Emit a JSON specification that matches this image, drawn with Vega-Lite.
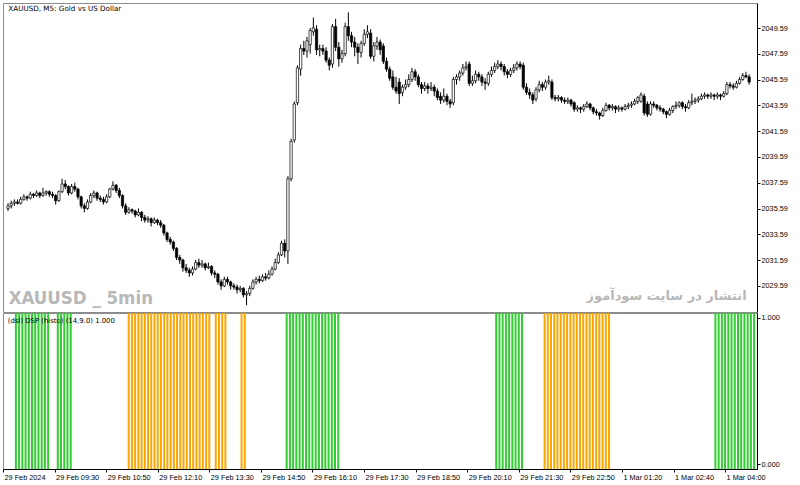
{
  "$schema": "https://vega.github.io/schema/vega-lite/v6.json",
  "padding": {"left": 2, "top": 2, "right": 0, "bottom": 0},
  "background": "white",
  "bounds": "flush",
  "config": {
    "view": {"stroke": "#8c8c8c", "strokeWidth": 1},
    "axis": {"labelFont": "Liberation Sans", "labelFontSize": 7.3, "labelColor": "#000", "domainColor": "#000", "tickColor": "#000", "grid": false, "title": null, "labelOverlap": false, "labelFlush": false}
  },
  "datasets": {
    "candles": [
      {"i":0,"o":2035.6,"h":2036.0,"l":2035.4,"c":2035.8},{"i":1,"o":2035.8,"h":2036.2,"l":2035.6,"c":2036.0},{"i":2,"o":2036.0,"h":2036.3,"l":2035.8,"c":2036.1},{"i":3,"o":2036.1,"h":2036.3,"l":2035.9,"c":2036.0},{"i":4,"o":2036.0,"h":2036.5,"l":2035.9,"c":2036.3},{"i":5,"o":2036.3,"h":2036.7,"l":2036.2,"c":2036.5},{"i":6,"o":2036.5,"h":2036.6,"l":2036.2,"c":2036.4},{"i":7,"o":2036.4,"h":2036.9,"l":2036.3,"c":2036.7},{"i":8,"o":2036.7,"h":2036.8,"l":2036.4,"c":2036.6},{"i":9,"o":2036.6,"h":2037.0,"l":2036.5,"c":2036.8},
      {"i":10,"o":2036.8,"h":2036.9,"l":2036.4,"c":2036.6},{"i":11,"o":2036.6,"h":2037.2,"l":2036.5,"c":2036.8},{"i":12,"o":2036.8,"h":2037.0,"l":2036.6,"c":2036.9},{"i":13,"o":2036.9,"h":2037.0,"l":2036.5,"c":2036.7},{"i":14,"o":2036.7,"h":2036.9,"l":2036.4,"c":2036.6},{"i":15,"o":2036.6,"h":2036.7,"l":2035.9,"c":2036.2},{"i":16,"o":2036.2,"h":2037.0,"l":2036.1,"c":2036.9},{"i":17,"o":2036.9,"h":2037.9,"l":2036.8,"c":2037.5},{"i":18,"o":2037.5,"h":2037.8,"l":2037.1,"c":2037.3},{"i":19,"o":2037.3,"h":2037.4,"l":2036.6,"c":2036.8},
      {"i":20,"o":2036.8,"h":2037.5,"l":2036.7,"c":2037.3},{"i":21,"o":2037.3,"h":2037.6,"l":2036.9,"c":2037.1},{"i":22,"o":2037.1,"h":2037.2,"l":2036.3,"c":2036.5},{"i":23,"o":2036.5,"h":2036.6,"l":2035.6,"c":2035.8},{"i":24,"o":2035.8,"h":2036.0,"l":2035.3,"c":2035.6},{"i":25,"o":2035.6,"h":2036.3,"l":2035.5,"c":2036.1},{"i":26,"o":2036.1,"h":2036.8,"l":2036.0,"c":2036.6},{"i":27,"o":2036.6,"h":2037.0,"l":2036.4,"c":2036.8},{"i":28,"o":2036.8,"h":2036.9,"l":2036.2,"c":2036.4},{"i":29,"o":2036.4,"h":2036.6,"l":2036.1,"c":2036.3},
      {"i":30,"o":2036.3,"h":2036.5,"l":2035.9,"c":2036.1},{"i":31,"o":2036.1,"h":2036.7,"l":2036.0,"c":2036.5},{"i":32,"o":2036.5,"h":2037.2,"l":2036.4,"c":2037.1},{"i":33,"o":2037.1,"h":2037.7,"l":2037.0,"c":2037.4},{"i":34,"o":2037.4,"h":2037.5,"l":2036.8,"c":2037.0},{"i":35,"o":2037.0,"h":2037.2,"l":2036.4,"c":2036.6},{"i":36,"o":2036.6,"h":2036.7,"l":2035.6,"c":2035.8},{"i":37,"o":2035.8,"h":2036.0,"l":2035.1,"c":2035.3},{"i":38,"o":2035.3,"h":2035.7,"l":2035.2,"c":2035.5},{"i":39,"o":2035.5,"h":2035.6,"l":2035.2,"c":2035.4},
      {"i":40,"o":2035.4,"h":2035.5,"l":2034.9,"c":2035.1},{"i":41,"o":2035.1,"h":2035.6,"l":2035.0,"c":2035.3},{"i":42,"o":2035.3,"h":2035.4,"l":2034.6,"c":2034.9},{"i":43,"o":2034.9,"h":2035.1,"l":2034.5,"c":2034.7},{"i":44,"o":2034.7,"h":2035.0,"l":2034.5,"c":2034.8},{"i":45,"o":2034.8,"h":2034.9,"l":2034.2,"c":2034.5},{"i":46,"o":2034.5,"h":2034.9,"l":2034.4,"c":2034.7},{"i":47,"o":2034.7,"h":2034.8,"l":2034.3,"c":2034.5},{"i":48,"o":2034.5,"h":2034.7,"l":2034.1,"c":2034.3},{"i":49,"o":2034.3,"h":2034.4,"l":2033.5,"c":2033.7},
      {"i":50,"o":2033.7,"h":2033.8,"l":2033.0,"c":2033.2},{"i":51,"o":2033.2,"h":2033.4,"l":2032.8,"c":2033.0},{"i":52,"o":2033.0,"h":2033.1,"l":2032.3,"c":2032.5},{"i":53,"o":2032.5,"h":2032.6,"l":2031.6,"c":2031.8},{"i":54,"o":2031.8,"h":2032.0,"l":2031.3,"c":2031.6},{"i":55,"o":2031.6,"h":2031.7,"l":2030.7,"c":2031.0},{"i":56,"o":2031.0,"h":2031.3,"l":2030.6,"c":2030.8},{"i":57,"o":2030.8,"h":2031.0,"l":2030.3,"c":2030.6},{"i":58,"o":2030.6,"h":2031.1,"l":2030.4,"c":2030.9},{"i":59,"o":2030.9,"h":2031.6,"l":2030.8,"c":2031.4},
      {"i":60,"o":2031.4,"h":2031.7,"l":2031.0,"c":2031.2},{"i":61,"o":2031.2,"h":2031.6,"l":2031.0,"c":2031.3},{"i":62,"o":2031.3,"h":2031.4,"l":2030.8,"c":2031.0},{"i":63,"o":2031.0,"h":2031.4,"l":2030.9,"c":2031.1},{"i":64,"o":2031.1,"h":2031.2,"l":2030.4,"c":2030.6},{"i":65,"o":2030.6,"h":2030.8,"l":2030.2,"c":2030.5},{"i":66,"o":2030.5,"h":2030.6,"l":2029.7,"c":2029.9},{"i":67,"o":2029.9,"h":2030.1,"l":2029.3,"c":2029.6},{"i":68,"o":2029.6,"h":2030.3,"l":2029.5,"c":2030.1},{"i":69,"o":2030.1,"h":2030.3,"l":2029.7,"c":2029.9},
      {"i":70,"o":2029.9,"h":2030.0,"l":2029.3,"c":2029.6},{"i":71,"o":2029.6,"h":2029.8,"l":2029.3,"c":2029.5},{"i":72,"o":2029.5,"h":2029.7,"l":2029.0,"c":2029.3},{"i":73,"o":2029.3,"h":2029.6,"l":2029.1,"c":2029.4},{"i":74,"o":2029.4,"h":2029.5,"l":2028.7,"c":2028.9},{"i":75,"o":2028.9,"h":2029.2,"l":2028.1,"c":2029.0},{"i":76,"o":2029.0,"h":2029.6,"l":2028.8,"c":2029.4},{"i":77,"o":2029.4,"h":2030.1,"l":2029.3,"c":2029.9},{"i":78,"o":2029.9,"h":2030.3,"l":2029.7,"c":2030.1},{"i":79,"o":2030.1,"h":2030.4,"l":2029.8,"c":2030.0},
      {"i":80,"o":2030.0,"h":2030.5,"l":2029.9,"c":2030.3},{"i":81,"o":2030.3,"h":2030.6,"l":2030.0,"c":2030.2},{"i":82,"o":2030.2,"h":2030.8,"l":2030.1,"c":2030.5},{"i":83,"o":2030.5,"h":2031.1,"l":2030.4,"c":2030.9},{"i":84,"o":2030.9,"h":2031.7,"l":2030.8,"c":2031.4},{"i":85,"o":2031.4,"h":2032.2,"l":2031.3,"c":2032.0},{"i":86,"o":2032.0,"h":2033.1,"l":2031.9,"c":2032.9},{"i":87,"o":2032.9,"h":2033.2,"l":2031.8,"c":2032.3},{"i":88,"o":2032.3,"h":2038.1,"l":2031.3,"c":2037.9},{"i":89,"o":2037.9,"h":2041.0,"l":2037.7,"c":2040.8},
      {"i":90,"o":2040.9,"h":2043.9,"l":2040.7,"c":2043.7},{"i":91,"o":2043.8,"h":2046.7,"l":2043.6,"c":2046.5},{"i":92,"o":2046.4,"h":2048.3,"l":2045.9,"c":2048.0},{"i":93,"o":2048.0,"h":2048.6,"l":2047.5,"c":2047.8},{"i":94,"o":2047.8,"h":2048.9,"l":2047.3,"c":2048.6},{"i":95,"o":2048.3,"h":2049.6,"l":2047.6,"c":2049.4},{"i":96,"o":2049.3,"h":2050.4,"l":2049.0,"c":2049.6},{"i":97,"o":2049.5,"h":2049.8,"l":2047.5,"c":2047.9},{"i":98,"o":2047.9,"h":2048.3,"l":2047.4,"c":2048.0},{"i":99,"o":2048.0,"h":2048.3,"l":2047.5,"c":2047.8},
      {"i":100,"o":2047.8,"h":2048.1,"l":2046.9,"c":2047.1},{"i":101,"o":2047.1,"h":2047.3,"l":2046.3,"c":2046.7},{"i":102,"o":2046.8,"h":2049.9,"l":2046.5,"c":2049.7},{"i":103,"o":2049.7,"h":2050.3,"l":2047.8,"c":2048.1},{"i":104,"o":2048.1,"h":2048.5,"l":2046.6,"c":2047.2},{"i":105,"o":2047.2,"h":2047.9,"l":2046.9,"c":2047.6},{"i":106,"o":2047.6,"h":2050.0,"l":2047.4,"c":2049.7},{"i":107,"o":2049.7,"h":2050.8,"l":2048.6,"c":2049.0},{"i":108,"o":2049.0,"h":2049.3,"l":2048.1,"c":2048.5},{"i":109,"o":2048.5,"h":2048.9,"l":2047.4,"c":2048.1},
      {"i":110,"o":2048.1,"h":2048.4,"l":2046.8,"c":2047.7},{"i":111,"o":2047.7,"h":2048.6,"l":2047.3,"c":2048.4},{"i":112,"o":2048.4,"h":2049.5,"l":2048.2,"c":2049.1},{"i":113,"o":2049.1,"h":2049.8,"l":2048.8,"c":2049.3},{"i":114,"o":2049.2,"h":2049.5,"l":2047.2,"c":2047.4},{"i":115,"o":2047.4,"h":2048.5,"l":2047.0,"c":2048.2},{"i":116,"o":2048.2,"h":2048.9,"l":2047.9,"c":2048.5},{"i":117,"o":2048.5,"h":2048.7,"l":2047.5,"c":2047.9},{"i":118,"o":2048.2,"h":2048.4,"l":2046.8,"c":2047.0},{"i":119,"o":2047.0,"h":2047.3,"l":2046.2,"c":2046.4},
      {"i":120,"o":2046.4,"h":2046.6,"l":2045.5,"c":2045.7},{"i":121,"o":2045.8,"h":2046.3,"l":2044.8,"c":2045.0},{"i":122,"o":2045.0,"h":2045.8,"l":2044.5,"c":2044.7},{"i":123,"o":2045.4,"h":2045.7,"l":2043.7,"c":2044.5},{"i":124,"o":2044.6,"h":2045.2,"l":2044.3,"c":2045.0},{"i":125,"o":2045.0,"h":2045.6,"l":2044.8,"c":2045.2},{"i":126,"o":2045.2,"h":2046.0,"l":2045.0,"c":2045.6},{"i":127,"o":2045.6,"h":2046.5,"l":2045.4,"c":2046.2},{"i":128,"o":2046.2,"h":2046.4,"l":2045.5,"c":2045.8},{"i":129,"o":2045.8,"h":2046.0,"l":2045.0,"c":2045.2},
      {"i":130,"o":2045.2,"h":2045.4,"l":2044.5,"c":2044.9},{"i":131,"o":2044.9,"h":2045.4,"l":2044.7,"c":2045.1},{"i":132,"o":2045.1,"h":2045.3,"l":2044.5,"c":2044.9},{"i":133,"o":2044.9,"h":2045.4,"l":2044.7,"c":2045.0},{"i":134,"o":2045.0,"h":2045.2,"l":2044.3,"c":2044.7},{"i":135,"o":2044.7,"h":2044.9,"l":2044.0,"c":2044.2},{"i":136,"o":2044.3,"h":2044.6,"l":2043.7,"c":2044.0},{"i":137,"o":2044.0,"h":2044.9,"l":2043.8,"c":2044.3},{"i":138,"o":2044.3,"h":2044.5,"l":2043.6,"c":2043.9},{"i":139,"o":2043.9,"h":2044.1,"l":2043.4,"c":2043.7},
      {"i":140,"o":2043.8,"h":2045.8,"l":2043.6,"c":2045.6},{"i":141,"o":2045.6,"h":2046.0,"l":2045.2,"c":2045.8},{"i":142,"o":2045.8,"h":2046.3,"l":2045.5,"c":2046.1},{"i":143,"o":2046.1,"h":2046.8,"l":2045.9,"c":2046.5},{"i":144,"o":2046.5,"h":2047.0,"l":2046.3,"c":2046.6},{"i":145,"o":2046.8,"h":2047.0,"l":2045.1,"c":2045.3},{"i":146,"o":2045.3,"h":2045.9,"l":2045.1,"c":2045.5},{"i":147,"o":2045.5,"h":2046.3,"l":2045.3,"c":2046.0},{"i":148,"o":2046.0,"h":2046.2,"l":2045.5,"c":2045.8},{"i":149,"o":2045.8,"h":2046.0,"l":2045.1,"c":2045.4},
      {"i":150,"o":2045.4,"h":2045.7,"l":2044.8,"c":2045.3},{"i":151,"o":2045.3,"h":2046.2,"l":2045.1,"c":2046.0},{"i":152,"o":2046.0,"h":2046.6,"l":2045.8,"c":2046.3},{"i":153,"o":2046.3,"h":2046.9,"l":2046.1,"c":2046.6},{"i":154,"o":2046.6,"h":2047.1,"l":2046.4,"c":2046.8},{"i":155,"o":2046.8,"h":2047.0,"l":2046.3,"c":2046.6},{"i":156,"o":2046.6,"h":2046.8,"l":2045.9,"c":2046.2},{"i":157,"o":2046.2,"h":2046.4,"l":2045.7,"c":2046.0},{"i":158,"o":2046.0,"h":2046.5,"l":2045.8,"c":2046.3},{"i":159,"o":2046.3,"h":2046.8,"l":2046.1,"c":2046.5},
      {"i":160,"o":2046.5,"h":2047.0,"l":2046.3,"c":2046.8},{"i":161,"o":2046.8,"h":2047.0,"l":2046.4,"c":2046.6},{"i":162,"o":2046.7,"h":2046.9,"l":2044.8,"c":2045.0},{"i":163,"o":2045.0,"h":2045.3,"l":2044.4,"c":2044.6},{"i":164,"o":2044.6,"h":2044.9,"l":2044.1,"c":2044.4},{"i":165,"o":2044.4,"h":2044.6,"l":2043.7,"c":2044.0},{"i":166,"o":2044.1,"h":2045.0,"l":2043.9,"c":2044.8},{"i":167,"o":2044.8,"h":2045.5,"l":2044.6,"c":2045.2},{"i":168,"o":2045.2,"h":2045.4,"l":2044.7,"c":2045.0},{"i":169,"o":2045.0,"h":2045.6,"l":2044.8,"c":2045.4},
      {"i":170,"o":2045.4,"h":2045.9,"l":2045.2,"c":2045.5},{"i":171,"o":2045.4,"h":2045.6,"l":2044.0,"c":2044.2},{"i":172,"o":2044.2,"h":2044.4,"l":2043.9,"c":2044.1},{"i":173,"o":2044.1,"h":2044.4,"l":2043.9,"c":2044.2},{"i":174,"o":2044.2,"h":2044.3,"l":2043.8,"c":2044.0},{"i":175,"o":2044.0,"h":2044.2,"l":2043.7,"c":2043.9},{"i":176,"o":2043.9,"h":2044.2,"l":2043.7,"c":2044.0},{"i":177,"o":2044.0,"h":2044.1,"l":2043.5,"c":2043.7},{"i":178,"o":2043.8,"h":2043.9,"l":2043.1,"c":2043.3},{"i":179,"o":2043.3,"h":2043.6,"l":2043.1,"c":2043.4},
      {"i":180,"o":2043.4,"h":2043.5,"l":2043.0,"c":2043.3},{"i":181,"o":2043.3,"h":2043.7,"l":2043.1,"c":2043.5},{"i":182,"o":2043.5,"h":2043.9,"l":2043.4,"c":2043.7},{"i":183,"o":2043.7,"h":2043.8,"l":2043.2,"c":2043.4},{"i":184,"o":2043.4,"h":2043.5,"l":2042.9,"c":2043.1},{"i":185,"o":2043.1,"h":2043.3,"l":2042.8,"c":2043.0},{"i":186,"o":2043.0,"h":2043.1,"l":2042.5,"c":2042.8},{"i":187,"o":2042.8,"h":2043.4,"l":2042.7,"c":2043.2},{"i":188,"o":2043.2,"h":2043.8,"l":2043.1,"c":2043.6},{"i":189,"o":2043.6,"h":2043.7,"l":2043.2,"c":2043.4},
      {"i":190,"o":2043.4,"h":2043.7,"l":2043.2,"c":2043.5},{"i":191,"o":2043.5,"h":2043.6,"l":2043.0,"c":2043.3},{"i":192,"o":2043.3,"h":2043.6,"l":2043.1,"c":2043.4},{"i":193,"o":2043.4,"h":2043.5,"l":2043.1,"c":2043.3},{"i":194,"o":2043.3,"h":2043.7,"l":2043.2,"c":2043.5},{"i":195,"o":2043.5,"h":2043.8,"l":2043.3,"c":2043.6},{"i":196,"o":2043.6,"h":2043.9,"l":2043.4,"c":2043.7},{"i":197,"o":2043.7,"h":2044.1,"l":2043.6,"c":2043.9},{"i":198,"o":2043.9,"h":2044.3,"l":2043.7,"c":2044.2},{"i":199,"o":2043.9,"h":2044.6,"l":2043.8,"c":2044.4},
      {"i":200,"o":2044.3,"h":2044.5,"l":2042.8,"c":2043.0},{"i":201,"o":2043.7,"h":2043.9,"l":2042.7,"c":2042.9},{"i":202,"o":2042.9,"h":2043.9,"l":2042.8,"c":2043.7},{"i":203,"o":2043.7,"h":2043.9,"l":2043.4,"c":2043.6},{"i":204,"o":2043.6,"h":2043.7,"l":2043.2,"c":2043.4},{"i":205,"o":2043.4,"h":2043.6,"l":2043.1,"c":2043.3},{"i":206,"o":2043.3,"h":2043.4,"l":2042.9,"c":2043.1},{"i":207,"o":2043.1,"h":2043.2,"l":2042.6,"c":2042.9},{"i":208,"o":2042.9,"h":2043.4,"l":2042.8,"c":2043.2},{"i":209,"o":2043.2,"h":2043.6,"l":2043.0,"c":2043.5},
      {"i":210,"o":2043.5,"h":2043.9,"l":2043.3,"c":2043.6},{"i":211,"o":2043.6,"h":2043.9,"l":2043.4,"c":2043.8},{"i":212,"o":2043.8,"h":2043.9,"l":2043.3,"c":2043.5},{"i":213,"o":2043.5,"h":2043.7,"l":2043.1,"c":2043.4},{"i":214,"o":2043.4,"h":2044.0,"l":2043.3,"c":2043.8},{"i":215,"o":2043.8,"h":2044.5,"l":2043.6,"c":2043.9},{"i":216,"o":2043.9,"h":2044.2,"l":2043.7,"c":2044.0},{"i":217,"o":2044.0,"h":2044.3,"l":2043.8,"c":2044.1},{"i":218,"o":2044.1,"h":2044.5,"l":2044.0,"c":2044.3},{"i":219,"o":2044.3,"h":2044.6,"l":2044.1,"c":2044.4},
      {"i":220,"o":2044.4,"h":2044.5,"l":2044.1,"c":2044.3},{"i":221,"o":2044.3,"h":2044.6,"l":2044.1,"c":2044.4},{"i":222,"o":2044.4,"h":2044.5,"l":2044.0,"c":2044.3},{"i":223,"o":2044.3,"h":2044.6,"l":2044.1,"c":2044.4},{"i":224,"o":2044.4,"h":2044.5,"l":2044.0,"c":2044.3},{"i":225,"o":2044.3,"h":2044.7,"l":2044.2,"c":2044.5},{"i":226,"o":2044.5,"h":2045.4,"l":2044.4,"c":2045.2},{"i":227,"o":2045.2,"h":2045.4,"l":2044.9,"c":2045.1},{"i":228,"o":2045.1,"h":2045.3,"l":2044.8,"c":2045.0},{"i":229,"o":2045.0,"h":2045.5,"l":2044.9,"c":2045.3},
      {"i":230,"o":2045.3,"h":2045.8,"l":2045.2,"c":2045.6},{"i":231,"o":2045.6,"h":2046.1,"l":2045.5,"c":2045.9},{"i":232,"o":2045.9,"h":2046.2,"l":2045.7,"c":2045.8},{"i":233,"o":2045.8,"h":2046.0,"l":2045.2,"c":2045.4}
    ],
    "histo": [
      {"i":4,"v":1,"s":"up"},{"i":5,"v":1,"s":"up"},{"i":6,"v":1,"s":"up"},{"i":7,"v":1,"s":"up"},{"i":8,"v":1,"s":"up"},{"i":9,"v":1,"s":"up"},{"i":10,"v":1,"s":"up"},{"i":11,"v":1,"s":"up"},{"i":12,"v":1,"s":"up"},{"i":13,"v":1,"s":"up"},{"i":14,"v":1,"s":"up"},
      {"i":17,"v":1,"s":"up"},{"i":18,"v":1,"s":"up"},{"i":19,"v":1,"s":"up"},{"i":20,"v":1,"s":"up"},{"i":21,"v":1,"s":"up"},
      {"i":39,"v":1,"s":"down"},{"i":40,"v":1,"s":"down"},{"i":41,"v":1,"s":"down"},{"i":42,"v":1,"s":"down"},{"i":43,"v":1,"s":"down"},{"i":44,"v":1,"s":"down"},{"i":45,"v":1,"s":"down"},{"i":46,"v":1,"s":"down"},{"i":47,"v":1,"s":"down"},{"i":48,"v":1,"s":"down"},{"i":49,"v":1,"s":"down"},{"i":50,"v":1,"s":"down"},{"i":51,"v":1,"s":"down"},{"i":52,"v":1,"s":"down"},{"i":53,"v":1,"s":"down"},{"i":54,"v":1,"s":"down"},{"i":55,"v":1,"s":"down"},{"i":56,"v":1,"s":"down"},{"i":57,"v":1,"s":"down"},{"i":58,"v":1,"s":"down"},{"i":59,"v":1,"s":"down"},{"i":60,"v":1,"s":"down"},{"i":61,"v":1,"s":"down"},{"i":62,"v":1,"s":"down"},{"i":63,"v":1,"s":"down"},{"i":64,"v":1,"s":"down"},
      {"i":66,"v":1,"s":"down"},{"i":67,"v":1,"s":"down"},{"i":68,"v":1,"s":"down"},{"i":69,"v":1,"s":"down"},
      {"i":74,"v":1,"s":"down"},{"i":75,"v":1,"s":"down"},
      {"i":88,"v":1,"s":"up"},{"i":89,"v":1,"s":"up"},{"i":90,"v":1,"s":"up"},{"i":91,"v":1,"s":"up"},{"i":92,"v":1,"s":"up"},{"i":93,"v":1,"s":"up"},{"i":94,"v":1,"s":"up"},{"i":95,"v":1,"s":"up"},{"i":96,"v":1,"s":"up"},{"i":97,"v":1,"s":"up"},{"i":98,"v":1,"s":"up"},{"i":99,"v":1,"s":"up"},{"i":100,"v":1,"s":"up"},{"i":101,"v":1,"s":"up"},{"i":102,"v":1,"s":"up"},{"i":103,"v":1,"s":"up"},{"i":104,"v":1,"s":"up"},
      {"i":153,"v":1,"s":"up"},{"i":154,"v":1,"s":"up"},{"i":155,"v":1,"s":"up"},{"i":156,"v":1,"s":"up"},{"i":157,"v":1,"s":"up"},{"i":158,"v":1,"s":"up"},{"i":159,"v":1,"s":"up"},{"i":160,"v":1,"s":"up"},{"i":161,"v":1,"s":"up"},
      {"i":168,"v":1,"s":"down"},{"i":169,"v":1,"s":"down"},{"i":170,"v":1,"s":"down"},{"i":171,"v":1,"s":"down"},{"i":172,"v":1,"s":"down"},{"i":173,"v":1,"s":"down"},{"i":174,"v":1,"s":"down"},{"i":175,"v":1,"s":"down"},{"i":176,"v":1,"s":"down"},{"i":177,"v":1,"s":"down"},{"i":178,"v":1,"s":"down"},{"i":179,"v":1,"s":"down"},{"i":180,"v":1,"s":"down"},{"i":181,"v":1,"s":"down"},{"i":182,"v":1,"s":"down"},{"i":183,"v":1,"s":"down"},{"i":184,"v":1,"s":"down"},{"i":185,"v":1,"s":"down"},{"i":186,"v":1,"s":"down"},{"i":187,"v":1,"s":"down"},{"i":188,"v":1,"s":"down"},
      {"i":221,"v":1,"s":"up"},{"i":222,"v":1,"s":"up"},{"i":223,"v":1,"s":"up"},{"i":224,"v":1,"s":"up"},{"i":225,"v":1,"s":"up"},{"i":226,"v":1,"s":"up"},{"i":227,"v":1,"s":"up"},{"i":228,"v":1,"s":"up"},{"i":229,"v":1,"s":"up"},{"i":230,"v":1,"s":"up"},{"i":231,"v":1,"s":"up"},{"i":232,"v":1,"s":"up"},{"i":233,"v":1,"s":"up"}
    ]
  },
  "vconcat": [
    {
      "width": 754,
      "height": 309,
      "layer": [
        {
          "data": {"name": "candles"},
          "mark": {"type": "rule", "color": "#000", "strokeWidth": 1},
          "encoding": {
            "x": {"field": "i", "type": "quantitative", "scale": {"domain": [0, 233.9], "nice": false, "zero": false}, "axis": null},
            "y": {"field": "l", "type": "quantitative", "scale": {"domain": [2027.57, 2051.53], "nice": false, "zero": false},
                  "axis": {"orient": "right", "values": [2029.59, 2031.59, 2033.59, 2035.59, 2037.59, 2039.59, 2041.59, 2043.59, 2045.59, 2047.59, 2049.59], "tickCount": 30, "format": ".2f", "tickSize": 3, "labelPadding": 1, "domain": true}},
            "y2": {"field": "h"}
          }
        },
        {
          "data": {"name": "candles"},
          "mark": {"type": "bar", "orient": "vertical", "size": 2.3, "stroke": "#000", "strokeWidth": 0.7},
          "encoding": {
            "x": {"field": "i", "type": "quantitative"},
            "y": {"field": "o", "type": "quantitative", "axis": {"orient": "right", "values": [2029.59, 2031.59, 2033.59, 2035.59, 2037.59, 2039.59, 2041.59, 2043.59, 2045.59, 2047.59, 2049.59], "tickCount": 30, "format": ".2f", "tickSize": 3, "labelPadding": 1, "domain": true}},
            "y2": {"field": "c"},
            "fill": {"condition": {"test": "datum.c >= datum.o", "value": "#ffffff"}, "value": "#000000"}
          }
        },
        {
          "data": {"values": [{"t": "XAUUSD, M5:  Gold vs US Dollar"}]},
          "mark": {"type": "text", "align": "left", "baseline": "middle", "font": "DejaVu Sans", "fontSize": 7.2, "color": "#000"},
          "encoding": {"x": {"datum": 0.1}, "y": {"datum": 2051.1}, "text": {"field": "t"}}
        },
        {
          "data": {"values": [{"t": "XAUUSD _ 5min"}]},
          "mark": {"type": "text", "align": "left", "baseline": "alphabetic", "font": "DejaVu Sans Condensed", "fontWeight": "bold", "fontSize": 18.5, "color": "#b8b8b8"},
          "encoding": {"x": {"datum": 0.2}, "y": {"datum": 2028.2}, "text": {"field": "t"}}
        },
        {
          "data": {"values": [{"t": "انتشار در سایت سودآموز"}]},
          "mark": {"type": "text", "align": "right", "baseline": "middle", "font": "DejaVu Sans", "fontWeight": "bold", "fontSize": 13, "color": "#b8b8b8"},
          "encoding": {"x": {"datum": 232.2}, "y": {"datum": 2028.8}, "text": {"field": "t"}}
        }
      ]
    },
    {
      "width": 754,
      "height": 156,
      "layer": [
        {
          "data": {"name": "histo"},
          "mark": {"type": "rule", "strokeWidth": 2},
          "encoding": {
            "x": {"field": "i", "type": "quantitative", "scale": {"domain": [0, 233.9], "nice": false, "zero": false},
                  "axis": {"values": [0, 16, 32, 48, 64, 80, 96, 112, 128, 144, 160, 176, 192, 208, 224], "tickCount": 30, "labelAlign": "left", "labelOffset": 1, "tickSize": 3, "labelPadding": 1,
                           "labelExpr": "['29 Feb 2024','29 Feb 09:30','29 Feb 10:50','29 Feb 12:10','29 Feb 13:30','29 Feb 14:50','29 Feb 16:10','29 Feb 17:30','29 Feb 18:50','29 Feb 20:10','29 Feb 21:30','29 Feb 22:50','1 Mar 01:20','1 Mar 02:40','1 Mar 04:00'][round(datum.value / 16)]"}},
            "color": {"field": "s", "type": "nominal", "scale": {"domain": ["up", "down"], "range": ["#32cd32", "#ffa500"]}, "legend": null}
          }
        },
        {
          "data": {"values": [{"t": "(dsl) DSP (histo)  (14,9.0) 1.000"}]},
          "mark": {"type": "text", "align": "left", "baseline": "middle", "font": "DejaVu Sans", "fontSize": 6.9, "color": "#000"},
          "encoding": {
            "x": {"datum": 1.5},
            "y": {"datum": 0.979, "scale": {"domain": [-0.034, 1.034], "nice": false, "zero": false}, "axis": {"orient": "right", "values": [0, 1], "format": ".3f", "tickSize": 3, "labelPadding": 1}},
            "text": {"field": "t"}
          }
        }
      ]
    }
  ],
  "spacing": 1
}
